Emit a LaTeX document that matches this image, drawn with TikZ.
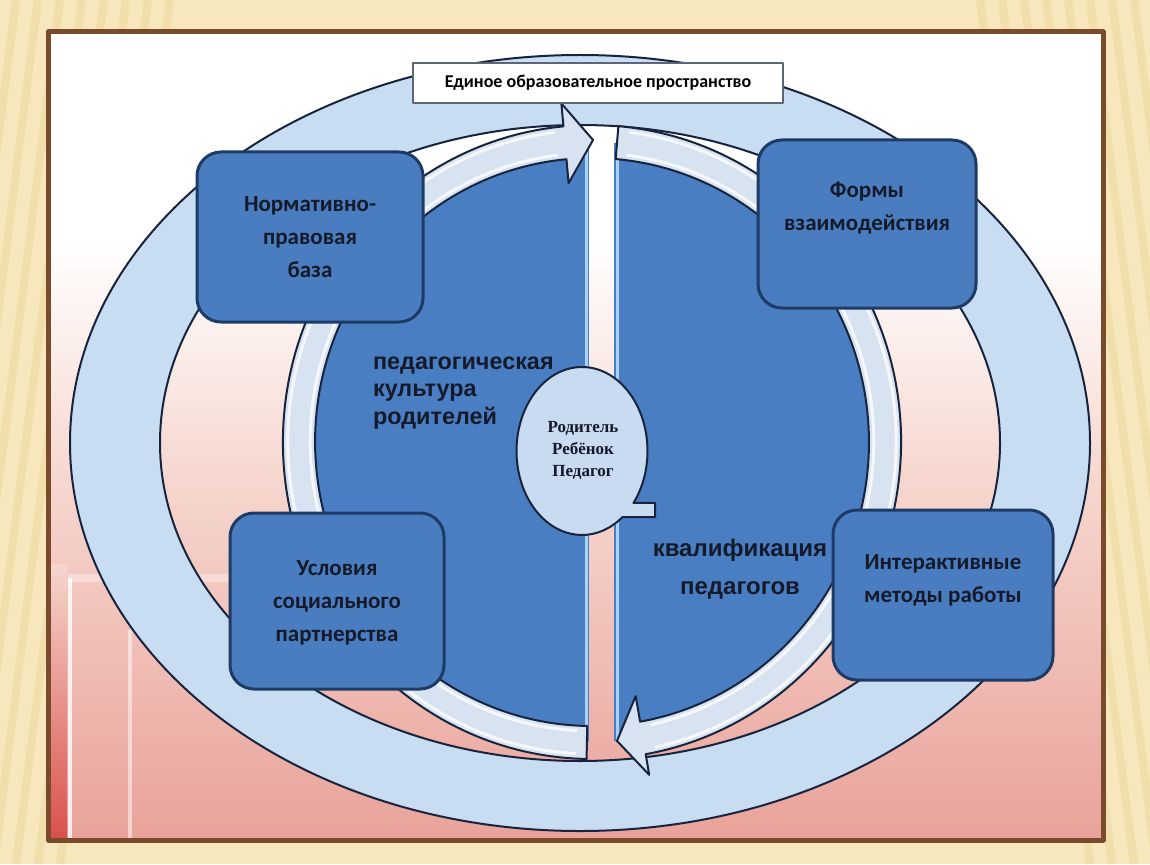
\documentclass[tikz,border=0pt]{standalone}
\usepackage{fontspec}
\setmainfont{Carlito}
\newfontfamily\headfont{Liberation Sans}
\newfontfamily\bubblefont{Liberation Serif}
\usepackage{tikz}
\usetikzlibrary{positioning}
\definecolor{slidebeige}{HTML}{F6E8BC}
\definecolor{slidestripe}{HTML}{E9D08E}
\definecolor{framebrown}{HTML}{7A4A2C}
\definecolor{bgpink}{HTML}{E9A29A}
\definecolor{bgpinklt}{HTML}{F6D6CE}
\definecolor{bgred}{HTML}{D9504A}
\definecolor{ringblue}{HTML}{C8DCF2}
\definecolor{arrowblue}{HTML}{D8E3F1}
\definecolor{discblue}{HTML}{4A7EC2}
\definecolor{boxblue}{HTML}{4A7DBF}
\definecolor{boxline}{HTML}{1E3B66}
\definecolor{inkline}{HTML}{18243D}
\definecolor{edgeblue}{HTML}{A8D2F7}
\definecolor{bubbleblue}{HTML}{C9DBF1}
\definecolor{inktext}{HTML}{141A29}
\pgfdeclareverticalshading{slidebg}{100bp}{color(0bp)=(bgpink); color(25bp)=(bgpink); color(47bp)=(bgpinklt); color(62bp)=(white); color(100bp)=(white)}

\begin{document}
\begin{tikzpicture}[x=0.5pt, y=0.5pt, line join=round,
  ring/.style={fill=ringblue, draw=inkline, line width=1pt},
  ringarrow/.style={fill=arrowblue, draw=inkline, line width=1pt},
  gloss/.style={white, line width=1.5pt, opacity=.75},
  topicbox/.style={draw=boxline, line width=1.5pt, fill=boxblue, rounded corners=12pt, minimum width=110pt, minimum height=85pt},
  topictext/.style={font=\bfseries\fontsize{11.5}{16.5}\selectfont, text=inktext, align=center},
  bigtext/.style={font=\headfont\bfseries\fontsize{11.7}{13.8}\selectfont, text=inktext}]
  \useasboundingbox (0,0) rectangle (1150,864);

  % slide background
  \fill[slidebeige] (0,0) rectangle (1150,864);
  \foreach \s in {-160,-138,...,60}
    \draw[slidestripe, line width=4pt, opacity=.35] (\s+110,864) -- (\s,0);
  \foreach \s in {1090,1112,...,1300}
    \draw[slidestripe, line width=4pt, opacity=.35] (\s-110,864) -- (\s,0);
  \shade[shading=slidebg] (48,24) rectangle (1103,832);
  \shade[top color=bgpinklt, bottom color=bgred] (50,24) rectangle (67,300);
  \fill[white, opacity=.8] (68,24) rectangle (72,286);
  \fill[white, opacity=.5] (128,24) rectangle (132,234);
  \fill[white, opacity=.35] (68,282) rectangle (240,290);

  % big ring
  \path[ring, even odd rule] (580,421) ellipse[x radius=510, y radius=388]
    (580,421) ellipse[x radius=420, y radius=318];

  % two halves of the disc
  \begin{scope}
    \clip (592,422) ellipse[x radius=292, y radius=300];
    \clip (250,0) rectangle (589,864);
    \fill[discblue] (250,100) rectangle (589,740);
    \draw[edgeblue, line width=1.5pt] (586,100) -- (586,740);
  \end{scope}
  \begin{scope}
    \clip (592,422) ellipse[x radius=292, y radius=300];
    \clip (614,0) rectangle (950,864);
    \fill[discblue] (614,100) rectangle (950,740);
    \draw[edgeblue, line width=1.5pt] (617,100) -- (617,740);
  \end{scope}

  % round arrows
  \begin{scope}[shift={(592,422)}, xscale=.975]
    \path[ringarrow] (269:317) arc[start angle=269, end angle=95.3, radius=317]
      -- (95.3:340) -- (89.8:302) -- (95.3:260) -- (95.3:284)
      arc[start angle=95.3, end angle=269, radius=284] -- cycle;
    \draw[gloss] (267:312) arc[start angle=267, end angle=97, radius=312];
    \draw[gloss] (267:289) arc[start angle=267, end angle=97, radius=289];
    \path[ringarrow] (85.1:317) arc[start angle=85.1, end angle=-80, radius=317]
      -- (-80:338) -- (-85.1:300) -- (-80:258) -- (-80:284)
      arc[start angle=-80, end angle=85.1, radius=284] -- cycle;
    \draw[gloss] (83:312) arc[start angle=83, end angle=-78, radius=312];
    \draw[gloss] (83:289) arc[start angle=83, end angle=-78, radius=289];
  \end{scope}

  % boxes
  \node[topicbox, minimum width=113pt] (norm) at (310,627) {};
  \node[topicbox, minimum width=109pt, minimum height=84pt] (forms) at (867,640) {};
  \node[topicbox, minimum width=107pt, minimum height=88pt] (cond) at (337,263) {};
  \node[topicbox] (inter) at (943,269) {};
  \node[topictext] (normtext) at (norm) {Нормативно-\\правовая\\база};
  \node[topictext] (formstext) at ([yshift=8pt]forms.center) {Формы\\взаимодействия};
  \node[topictext] (condtext) at ([yshift=-1pt]cond.center) {Условия\\социального\\партнерства};
  \node[topictext] (intertext) at ([yshift=7.5pt]inter.center) {Интерактивные\\методы работы};

  \node[draw=inkline!70, line width=.6pt, fill=white, minimum width=185pt, minimum height=20pt,
    font=\bfseries\fontsize{9}{11}\selectfont] (title) at (598,781) {Единое образовательное пространство};

  \node[bigtext, anchor=west, align=left] (culture) at (366,471) {педагогическая\\культура\\родителей};
  \node[bigtext, align=center, font=\headfont\bfseries\fontsize{12}{19}\selectfont] (skill) at (740,295) {квалификация\\педагогов};

  % speech bubble in the middle
  \begin{scope}[shift={(582,413)}]
    \path[fill=bubbleblue, draw=inkline, line width=1pt] (-38.2:65.5 and 84)
      arc[start angle=-38.2, end angle=308.2, x radius=65.5, y radius=84]
      -- (73,-66) -- (73,-52) -- cycle;
  \end{scope}
  \node[font=\bubblefont\bfseries\fontsize{8.5}{11}\selectfont, text=inktext, align=center] (roles) at (583,414) {Родитель\\Ребёнок\\Педагог};

  \draw[framebrown, line width=2.5pt] (48,24) rectangle (1103,832);
\end{tikzpicture}
\end{document}
